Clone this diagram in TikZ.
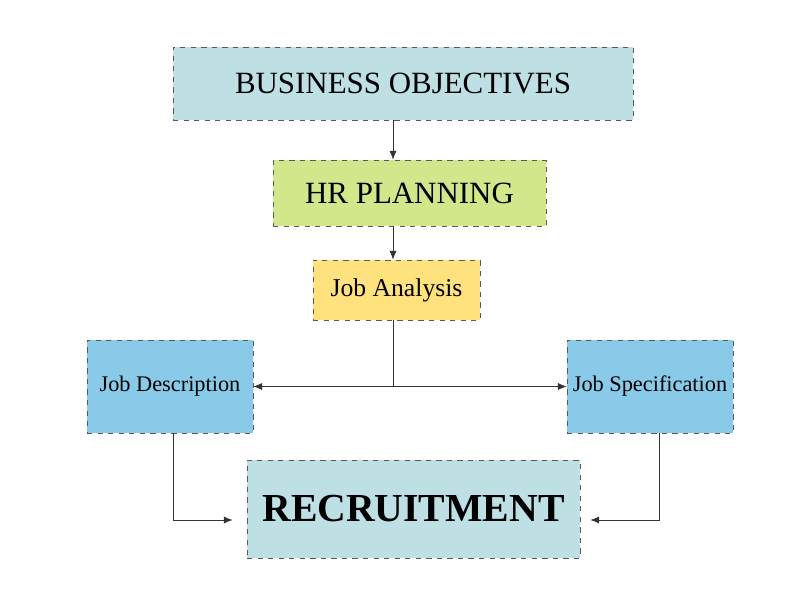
\documentclass[tikz,border=0pt]{standalone}
\usepackage{fontspec}
\setmainfont{Liberation Serif}
\usetikzlibrary{arrows.meta}
\definecolor{paleblue}{HTML}{BEE0E4}
\definecolor{palegreen}{HTML}{D2E68C}
\definecolor{paleyellow}{HTML}{FFE17D}
\definecolor{skyblue}{HTML}{88CAE7}
\tikzset{
  box/.style={draw=black!65,dashed,inner sep=0pt,align=center},
  link/.style={-{Latex[length=5pt,width=4pt]},black!80,thin}
}
\begin{document}
\begin{tikzpicture}
\useasboundingbox (0,0) rectangle (16,12);

\node[box,fill=paleblue,minimum width=9.2cm,minimum height=1.46cm,font=\fontsize{17.6}{20}\selectfont] (bo) at (8.06,10.33) {BUSINESS OBJECTIVES};
\node[box,fill=palegreen,minimum width=5.46cm,minimum height=1.32cm,font=\fontsize{17.6}{20}\selectfont] (hr) at (8.19,8.14) {HR PLANNING};
\node[box,fill=paleyellow,minimum width=3.34cm,minimum height=1.2cm,font=\fontsize{14.6}{17}\selectfont] (ja) at (7.93,6.2) {Job Analysis};
\node[box,fill=skyblue,minimum width=3.32cm,minimum height=1.86cm,font=\fontsize{12.7}{15}\selectfont] (jd) at (3.4,4.27) {Job Description};
\node[box,fill=skyblue,minimum width=3.32cm,minimum height=1.86cm,font=\fontsize{12.7}{15}\selectfont] (js) at (13.0,4.27) {Job Specification};
\node[box,fill=paleblue,minimum width=6.66cm,minimum height=1.96cm,font=\fontsize{22.6}{26}\selectfont\bfseries] (rc) at (8.27,1.82) {RECRUITMENT};

\coordinate (axis) at (7.86,0);
\coordinate (split) at (7.86,4.27);
\coordinate (low) at (0,1.6);

\draw[link] (bo.south -| axis) -- (hr.north -| axis);
\draw[link] (hr.south -| axis) -- (ja.north -| axis);
\draw[black!80,thin] (ja.south -| axis) -- (split);
\draw[link] (split) -- (jd.east);
\draw[link] (split) -- (js.west);
\draw[link,shorten >=0.28cm] ([xshift=0.06cm]jd.south) |- (rc.west |- low);
\draw[link,shorten >=0.2cm] ([xshift=0.18cm]js.south) |- (rc.east |- low);
\end{tikzpicture}
\end{document}
